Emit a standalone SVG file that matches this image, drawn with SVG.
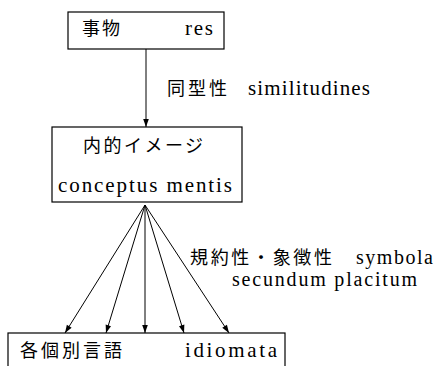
<svg xmlns="http://www.w3.org/2000/svg" width="437" height="366" viewBox="0 0 437 366">
<defs>
<style>
.box{fill:#fff;stroke:#000;stroke-width:1.2}
.ln{stroke:#000;stroke-width:1;fill:none}
.jp{font-family:"Noto Sans CJK JP","Noto Sans CJK SC",sans-serif;font-size:18px;fill:#000}
.lt{font-family:"Liberation Serif",serif;font-size:21px;fill:#000}
.sm{font-size:20px}
</style>
<marker id="ah" viewBox="0 0 10 10" refX="10" refY="5" markerWidth="10" markerHeight="8" markerUnits="userSpaceOnUse" orient="auto">
<path d="M0,1.5 L10,5 L0,8.5 z" fill="#000"/>
</marker>
</defs>
<rect width="437" height="366" fill="#fff"/>
<g id="connectors">
<line class="ln" x1="146" y1="49" x2="146" y2="127" marker-end="url(#ah)"/>
<line class="ln" x1="145" y1="205" x2="65" y2="333" marker-end="url(#ah)"/>
<line class="ln" x1="145" y1="205" x2="106" y2="333" marker-end="url(#ah)"/>
<line class="ln" x1="145" y1="205" x2="145" y2="333" marker-end="url(#ah)"/>
<line class="ln" x1="145" y1="205" x2="184" y2="333" marker-end="url(#ah)"/>
<line class="ln" x1="145" y1="205" x2="229" y2="333" marker-end="url(#ah)"/>
<g id="label-similitudines">
<text class="jp" x="167" y="95" textLength="60" lengthAdjust="spacing">同型性</text>
<text class="lt" x="248" y="95" textLength="122" lengthAdjust="spacing">similitudines</text>
</g>
<g id="label-symbola">
<text class="jp" x="190" y="264" textLength="142" lengthAdjust="spacing">規約性・象徴性</text>
<text class="lt sm" x="356" y="264" textLength="77" lengthAdjust="spacing">symbola</text>
<text class="lt sm" x="232" y="286" textLength="185" lengthAdjust="spacing">secundum placitum</text>
</g>
</g>
<g id="node-res">
<rect class="box" x="68" y="12" width="156" height="37"/>
<text class="jp" x="82" y="35" textLength="38" lengthAdjust="spacing">事物</text>
<text class="lt" x="185" y="35" textLength="28" lengthAdjust="spacing">res</text>
</g>
<g id="node-conceptus">
<rect class="box" x="52" y="127" width="190" height="75"/>
<text class="jp" x="83" y="152" textLength="120" lengthAdjust="spacing">内的イメージ</text>
<text class="lt" x="58" y="192" textLength="174" lengthAdjust="spacing">conceptus mentis</text>
</g>
<g id="node-idiomata">
<rect class="box" x="8" y="333" width="277" height="45"/>
<text class="jp" x="20" y="357" textLength="102" lengthAdjust="spacing">各個別言語</text>
<text class="lt" x="185" y="357" textLength="92" lengthAdjust="spacing">idiomata</text>
</g>
</svg>
